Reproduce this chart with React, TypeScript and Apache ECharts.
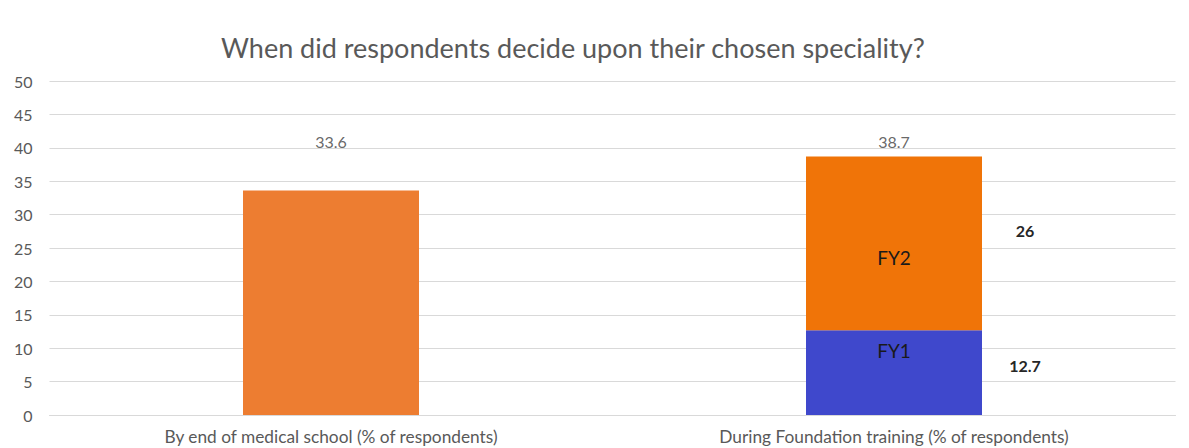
import React, { useEffect, useRef } from "react";
import * as echarts from "echarts";

const categories = [
  "By end of medical school (% of respondents)",
  "During Foundation training (% of respondents)",
];
const medicalSchool: (number | string)[] = [33.6, "-"];
const fy1: (number | string)[] = ["-", 12.7];
const fy2: (number | string)[] = ["-", 26];
const totals = [33.6, 38.7];
const totalLabelLevel = 40.9;
const yTicks = { min: 0, max: 50, interval: 5 };

const FONT = "Lato, 'Open Sans', sans-serif";
const BAR_W = 176;

export default function App() {
  const ref = useRef<HTMLDivElement>(null);
  useEffect(() => {
    const chart = echarts.init(ref.current!, null, { renderer: "svg" });
    const sideLabel = (vals: (number | string)[], dy: number) => ({
      type: "bar",
      stack: "side",
      data: vals,
      barWidth: BAR_W,
      barGap: "-100%",
      itemStyle: { color: "rgba(0,0,0,0)" },
      silent: true,
      label: {
        show: true,
        position: "right",
        distance: 43,
        align: "center",
        offset: [0, dy],
        formatter: (p: any) => String(p.value),
        color: "#262626",
        fontSize: 16,
        fontWeight: "bold",
        fontFamily: FONT,
      },
    });
    chart.setOption({
      animation: false,
      backgroundColor: "#ffffff",
      textStyle: { fontFamily: FONT },
      title: {
        text: "When did respondents decide upon their chosen speciality?",
        left: 216,
        top: 29,
        textStyle: { fontFamily: FONT, fontSize: 27, fontWeight: "normal", color: "#595959" },
      },
      grid: { left: 49.5, right: 13.5, top: 81, bottom: 33, containLabel: false },
      xAxis: {
        type: "category",
        data: categories,
        axisLine: { show: true, lineStyle: { color: "#D9D9D9" } },
        axisTick: { show: false },
        axisLabel: { color: "#595959", fontSize: 17.3, margin: 13, fontFamily: FONT },
      },
      yAxis: {
        type: "value",
        min: yTicks.min,
        max: yTicks.max,
        interval: yTicks.interval,
        axisLine: { show: false },
        axisTick: { show: false },
        axisLabel: { color: "#595959", fontSize: 16, margin: 17, fontFamily: FONT },
        splitLine: { lineStyle: { color: "#D9D9D9", width: 1 } },
      },
      series: [
        {
          type: "bar",
          name: "Medical school",
          stack: "all",
          data: medicalSchool,
          barWidth: BAR_W,
          barGap: "-100%",
          itemStyle: { color: "#ED7D31" },
        },
        {
          type: "bar",
          name: "FY1",
          stack: "all",
          data: fy1,
          barWidth: BAR_W,
          barGap: "-100%",
          itemStyle: { color: "#3F48CC" },
          label: {
            show: true,
            position: "insideTop",
            distance: 11,
            formatter: "FY1",
            color: "#1a1a1a",
            fontSize: 19,
            fontFamily: FONT,
          },
        },
        {
          type: "bar",
          name: "FY2",
          stack: "all",
          data: fy2,
          barWidth: BAR_W,
          barGap: "-100%",
          itemStyle: { color: "#F07408" },
          label: {
            show: true,
            position: "inside",
            offset: [0, 14],
            formatter: "FY2",
            color: "#1a1a1a",
            fontSize: 19,
            fontFamily: FONT,
          },
        },
        sideLabel(fy1, -7),
        sideLabel(fy2, -13),
        {
          type: "scatter",
          symbolSize: 0,
          data: totals.map((_, i) => [i, totalLabelLevel]),
          label: {
            show: true,
            position: "inside",
            formatter: (p: any) => String(totals[p.dataIndex]),
            color: "#404040",
            fontSize: 16,
            fontFamily: FONT,
          },
          silent: true,
        },
      ],
    });
    return () => chart.dispose();
  }, []);
  return (
    <div
      ref={ref}
      style={{ position: "fixed", left: 0, top: 0, width: 1189, height: 448 }}
    />
  );
}
